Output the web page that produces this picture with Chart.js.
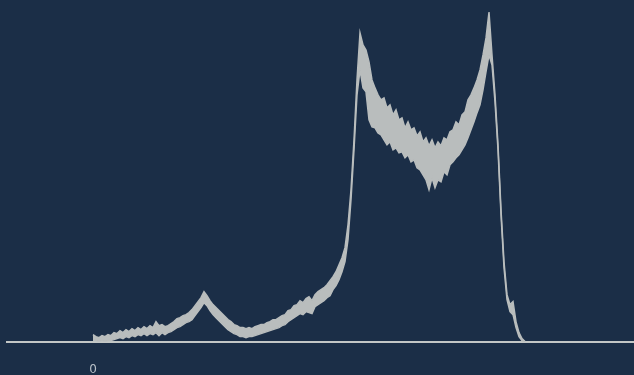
<!DOCTYPE html>
<html>
<head>
<meta charset="utf-8">
<script src="https://cdn.jsdelivr.net/npm/chart.js@4"></script>
<style>
  html, body { margin: 0; padding: 0; background: #1b2e47; }
  #wrap { width: 634px; height: 375px; }
</style>
</head>
<body>
<div id="wrap"><canvas id="spectrum"></canvas></div>
<script>
/* Spectrum trace: upper and lower edge of the noisy band, one value every 3 channels */
const channelStep = 3;
const upper = [
  7, 5, 4, 6, 5, 7, 6, 9, 8, 11, 9, 12, 10, 13, 11, 14, 12, 15, 13, 16,
  14, 20, 16, 17, 15, 16, 18, 20, 23, 24, 26, 27, 29, 32, 36, 40, 44, 50, 46, 41,
  37, 34, 31, 28, 25, 22, 20, 17, 16, 14, 14, 13, 14, 13, 15, 16, 17, 17, 19, 20,
  22, 22, 24, 26, 27, 31, 32, 36, 37, 41, 39, 43, 45, 41, 47, 50, 52, 54, 57, 61,
  65, 70, 77, 84, 94, 117, 152, 202, 262, 309, 297, 292, 280, 262, 254, 247, 242, 244, 234, 237,
  227, 232, 222, 224, 214, 220, 212, 214, 206, 210, 200, 204, 196, 202, 194, 200, 196, 204, 202, 210,
  212, 220, 217, 227, 230, 242, 247, 254, 262, 272, 287, 304, 330, 287, 247, 197, 132, 80, 47, 37,
  40, 20, 9, 3, 0
];
const lower = [
  1, 1, 0, 1, 0, 1, 1, 2, 3, 4, 3, 5, 4, 6, 5, 7, 6, 8, 6, 8,
  7, 9, 6, 9, 7, 9, 10, 12, 14, 15, 17, 19, 20, 22, 26, 30, 34, 39, 36, 31,
  27, 24, 21, 18, 15, 12, 10, 8, 7, 5, 5, 4, 5, 5, 6, 7, 8, 9, 10, 11,
  12, 13, 14, 16, 17, 20, 22, 24, 26, 28, 27, 30, 29, 28, 35, 37, 39, 41, 44, 46,
  52, 56, 62, 70, 80, 102, 142, 192, 247, 272, 254, 250, 222, 215, 214, 209, 207, 202, 197, 200,
  192, 194, 189, 190, 184, 187, 180, 182, 174, 172, 167, 162, 152, 164, 154, 162, 160, 170, 167, 177,
  180, 184, 187, 192, 197, 204, 212, 220, 229, 237, 252, 270, 287, 277, 240, 192, 127, 74, 42, 30,
  27, 14, 5, 1, 0
];
const tickLabels = ['0'];

const traceColor = '#b9bdbd';
const toPoints = arr => arr.map((v, i) => ({ x: i * channelStep, y: v }));

new Chart(document.getElementById('spectrum'), {
  type: 'line',
  data: {
    datasets: [
      {
        data: toPoints(upper),
        borderColor: traceColor,
        borderWidth: 1.5,
        pointRadius: 0,
        fill: false
      },
      {
        data: toPoints(lower),
        borderColor: traceColor,
        backgroundColor: traceColor,
        borderWidth: 1.5,
        pointRadius: 0,
        fill: '-1'
      }
    ]
  },
  options: {
    responsive: true,
    maintainAspectRatio: false,
    animation: false,
    layout: { padding: { left: 7, right: 0, top: 0, bottom: -23 } },
    plugins: { legend: { display: false }, tooltip: { enabled: false } },
    scales: {
      x: {
        type: 'linear',
        min: -86,
        max: 541,
        afterBuildTicks: s => { s.ticks = tickLabels.map(t => ({ value: Number(t) })); },
        grid: { display: true, color: 'rgba(0,0,0,0)', drawTicks: false },
        border: { display: true, color: '#c3c7c6', width: 2 },
        ticks: {
          color: '#b8c0c8',
          padding: 21,
          maxRotation: 0,
          font: { family: 'DejaVu Sans', size: 12 },
          callback: v => String(v)
        }
      },
      y: {
        display: false,
        min: 0,
        max: 342
      }
    }
  }
});
</script>
</body>
</html>
